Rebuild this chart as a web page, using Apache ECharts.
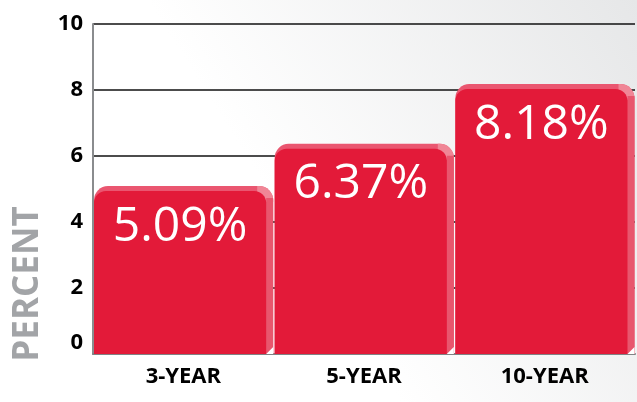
<!DOCTYPE html>
<html>
<head>
<meta charset="utf-8">
<script src="https://cdn.jsdelivr.net/npm/echarts@6/dist/echarts.min.js"></script>
<style>
html,body{margin:0;padding:0;background:#fff;}
#chart{width:637px;height:402px;}
</style>
</head>
<body>
<div id="chart"></div>
<script>
const categories = ['3-YEAR', '5-YEAR', '10-YEAR'];
const returns = [5.09, 6.37, 8.18];
const yTicks = [0, 2, 4, 6, 8, 10];

const chart = echarts.init(document.getElementById('chart'));

function renderBar(params, api) {
  const idx = api.value(0);
  const v = api.value(1);
  const top = api.coord([idx, v]);
  const base = api.coord([idx, 0]);
  const bw = api.size([1, 0])[0];
  const left = base[0] - bw / 2 + 1;
  const right = base[0] + bw / 2 - 0.5;
  const t = top[1];
  const b = base[1];
  const side = 7;
  const band = 5;
  return {
    type: 'group',
    children: [
      { type: 'rect', shape: { x: left, y: t, width: right - left, height: b - t, r: [14, 14, 0, 0] },
        style: { fill: '#ea5670' } },
      { type: 'rect', shape: { x: right - 16, y: t, width: 16, height: 16, r: [0, 14, 0, 0] },
        style: { fill: '#f08696' } },
      { type: 'rect', shape: { x: right - side, y: t + 12, width: side, height: b - t - 12 },
        style: { fill: '#e8566d' } },
      { type: 'rect', shape: { x: left, y: t + band, width: right - left - side, height: b - t - band, r: [12, 12, 0, 0] },
        style: { fill: '#e31a39' } },
      { type: 'polygon', shape: { points: [[right - side, b], [right, b - 7], [right, b]] },
        style: { fill: '#ffffff' } },
      { type: 'text', x: (left + right - side) / 2, y: t + 41,
        style: { text: v.toFixed(2) + '%', fill: '#ffffff', fontFamily: 'Open Sans', fontSize: 48, fontWeight: 400,
                 align: 'center', verticalAlign: 'middle' } }
    ]
  };
}

chart.setOption({
  animation: false,
  backgroundColor: new echarts.graphic.LinearGradient(0, 1, 1, 0, [
    { offset: 0, color: '#ffffff' },
    { offset: 0.45, color: '#ffffff' },
    { offset: 1, color: '#e6e7e8' }
  ]),
  grid: { left: 93, right: 2, top: 24, bottom: 48, containLabel: false },
  xAxis: {
    type: 'category',
    data: categories,
    axisLine: { show: true, lineStyle: { color: '#808285', width: 2 } },
    axisTick: { show: false },
    axisLabel: { color: '#000', fontFamily: 'Open Sans', fontWeight: 'bold', fontSize: 22, margin: 12 }
  },
  yAxis: {
    type: 'value',
    min: yTicks[0],
    max: yTicks[yTicks.length - 1],
    interval: 2,
    axisLine: { show: true, lineStyle: { color: '#8a8c8e', width: 2 } },
    axisTick: { show: false },
    axisLabel: { color: '#000', fontFamily: 'Open Sans', fontWeight: 'bold', fontSize: 22, margin: 10,
                 verticalAlignMinLabel: 'bottom' },
    splitLine: { show: true, lineStyle: { color: '#111', width: 1.5 } }
  },
  graphic: [
    { type: 'text', x: 28.5, y: 284, rotation: Math.PI / 2,
      style: { text: 'PERCENT', fill: '#a2a4a7', fontFamily: 'Open Sans', fontWeight: 'bold', fontSize: 35,
               align: 'center', verticalAlign: 'middle' } }
  ],
  series: [{
    type: 'custom',
    renderItem: renderBar,
    encode: { x: 0, y: 1 },
    data: returns.map((v, i) => [i, v]),
    z: 3
  }]
});
</script>
</body>
</html>
